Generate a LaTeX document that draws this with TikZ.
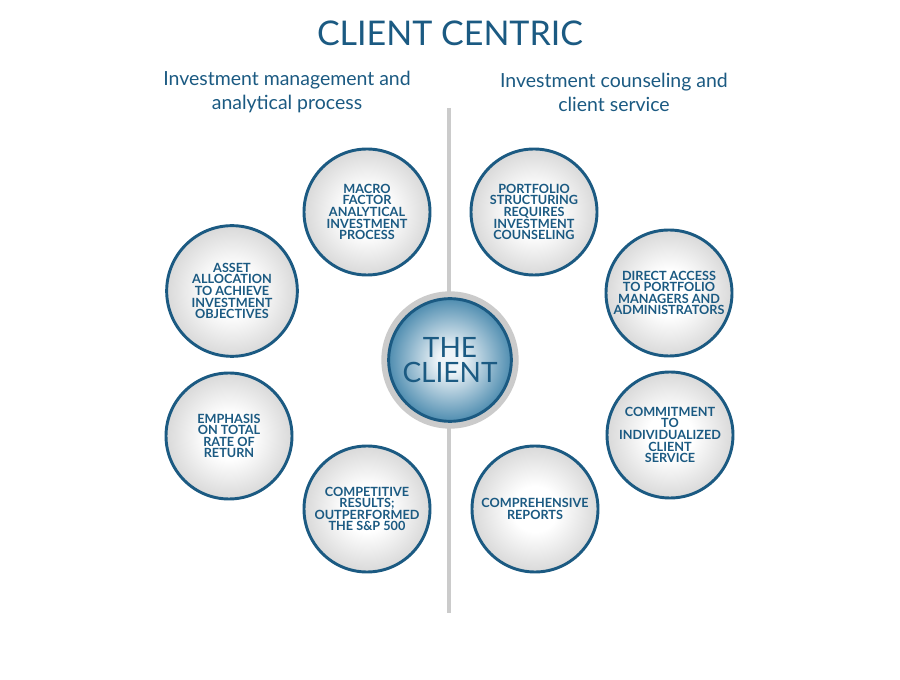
\documentclass[tikz,border=0pt]{standalone}
\usepackage{fontspec}
\setmainfont{Lato}
\definecolor{navy}{HTML}{1B5A82}
\definecolor{ringgray}{HTML}{CBCBCB}
\definecolor{bubbleedge}{HTML}{D9D9D9}
\definecolor{clientedge}{HTML}{4F8DB0}
\definecolor{clientmid}{HTML}{EEF4F8}
\pgfdeclareradialshading{bubbleshade}{\pgfpoint{0bp}{0bp}}{color(0bp)=(white); color(9bp)=(white); color(25bp)=(bubbleedge); color(50bp)=(bubbleedge)}
\pgfdeclareradialshading{clientshade}{\pgfpoint{0bp}{0bp}}{color(0bp)=(clientmid); color(5bp)=(clientmid); color(25bp)=(clientedge); color(50bp)=(clientedge)}
\begin{document}
\begin{tikzpicture}[x=0.75pt,y=-0.75pt,
  bubble/.style={circle, draw=navy, line width=2.2pt, minimum size=94.5pt,
    shading=bubbleshade, align=center, text=navy,
    font=\bfseries\fontsize{9.5}{8.7}\selectfont, inner sep=0pt},
  heading/.style={text=navy, align=center, font=\fontsize{14.6}{18}\selectfont},
  divider/.style={draw=ringgray, line width=3.4pt}
]
\useasboundingbox[fill=white] (0,0) rectangle (900,680);

% titles
\node[text=navy, font=\fontsize{25.5}{30}\selectfont] (title) at (450,33) {CLIENT CENTRIC};
\node[heading] (lefthead) at (287,92) {Investment management and\\analytical process};
\node[heading] (righthead) at (614,92) {Investment counseling and\\client service};

% divider
\coordinate (ltop) at (449,108);
\coordinate (lbot) at (449,613);
\draw[divider] (ltop) -- (lbot);

% centre
\node[circle, fill=ringgray, minimum size=103pt, inner sep=0pt] (ring) at (450,360) {};
\node[circle, draw=navy, line width=2.2pt, minimum size=92pt, inner sep=0pt,
  shading=clientshade, text=navy, align=center,
  font=\fontsize{21}{19}\selectfont] (client) at (450,360) {THE\\CLIENT};

% left side
\node[bubble] (macro) at (367,212) {MACRO\\FACTOR\\ANALYTICAL\\INVESTMENT\\PROCESS};
\node[bubble, minimum size=98pt] (asset) at (232,291) {ASSET\\ALLOCATION\\TO ACHIEVE\\INVESTMENT\\OBJECTIVES};
\node[bubble] (emphasis) at (229,436) {EMPHASIS\\ON TOTAL\\RATE OF\\RETURN};
\node[bubble] (competitive) at (367,509) {COMPETITIVE\\RESULTS;\\OUTPERFORMED\\THE S\&P 500};

% right side
\node[bubble] (portfolio) at (534,212) {PORTFOLIO\\STRUCTURING\\REQUIRES\\INVESTMENT\\COUNSELING};
\node[bubble] (direct) at (669,293) {DIRECT ACCESS\\TO PORTFOLIO\\MANAGERS AND\\ADMINISTRATORS};
\node[bubble] (commit) at (670,435) {COMMITMENT\\TO\\INDIVIDUALIZED\\CLIENT\\SERVICE};
\node[bubble] (reports) at (535,509) {COMPREHENSIVE\\REPORTS};
\end{tikzpicture}
\end{document}
